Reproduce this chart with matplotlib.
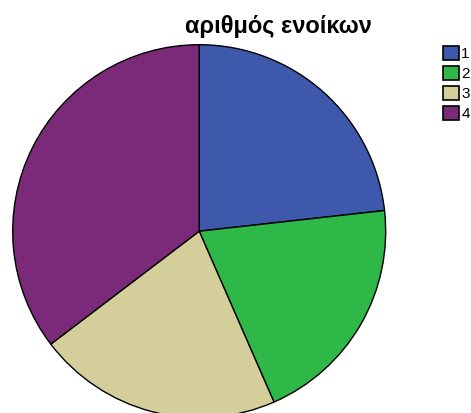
import matplotlib
matplotlib.use("Agg")
import matplotlib.pyplot as plt
from matplotlib.patches import Patch

# number of tenants per household
labels = ["1", "2", "3", "4"]
counts = [23, 20, 21, 35]
colors = ["#3E58AC", "#2EB848", "#D4CE9A", "#7B2A7A"]

plt.rcParams["font.family"] = ["Liberation Sans", "DejaVu Sans"]

fig = plt.figure(dpi=100, figsize=(4.71, 4.13))
W, H = 471, 413
cx, cy, r = 199.2, 413 - 231.2, 186.5
ax = fig.add_axes([(cx - r) / W, (cy - r) / H, 2 * r / W, 2 * r / H])

ax.pie(counts, colors=colors, startangle=90, counterclock=False,
       wedgeprops=dict(edgecolor="black", linewidth=1.0))
ax.set_xlim(-1, 1)
ax.set_ylim(-1, 1)
ax.set_aspect("equal")
ax.axis("off")

fig.text(278 / W, 1 - 27 / H, "αριθμός ενοίκων", ha="center", va="center",
         fontsize=17, fontweight="bold")

handles = [Patch(facecolor=c, edgecolor="black", linewidth=1.2) for c in colors]
fig.legend(handles, labels, loc="upper left", bbox_to_anchor=(443 / W, 1 - 46 / H),
           frameon=False, fontsize=11, handlelength=1.05, handleheight=1.05,
           handletextpad=0.15, labelspacing=0.3, borderpad=0, borderaxespad=0)

plt.savefig("out.png", dpi=100)
plt.close()
